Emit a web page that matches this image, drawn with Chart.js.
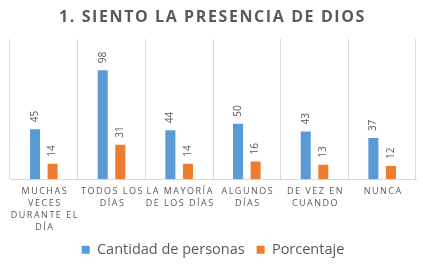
<!DOCTYPE html>
<html>
<head>
<meta charset="utf-8">
<script src="https://cdn.jsdelivr.net/npm/chart.js@4"></script>
<style>
	html, body { margin: 0; background: #fff; }
	#wrap { width: 423px; height: 267px; }
</style>
</head>
<body>
<div id="wrap"><canvas id="chart-dios"></canvas></div>
<script>
const TITLE = "1. SIENTO LA PRESENCIA DE DIOS";
const CATEGORIES = [
	["MUCHAS", "VECES", "DURANTE EL", "DÍA"],
	["TODOS LOS", "DÍAS"],
	["LA MAYORÍA", "DE LOS DÍAS"],
	["ALGUNOS", "DÍAS"],
	["DE VEZ EN", "CUANDO"],
	["NUNCA"],
];
const PERSONAS = [45, 98, 44, 50, 43, 37];
const PORCENTAJE = [14, 31, 14, 16, 13, 12];

const GRAY = "#595959";
const FONT = "'Open Sans', sans-serif";

//------------------------------------------------------------
// Custom text: title, rotated value labels, spaced x labels
//------------------------------------------------------------
const textPlugin = {
	id: "textPlugin",
	afterDraw: (chart) => {
		const ctx = chart.ctx;
		ctx.save();
		ctx.fillStyle = GRAY;

		// title
		ctx.font = "bold 16px " + FONT;
		ctx.letterSpacing = "1.6px";
		ctx.textAlign = "center";
		ctx.textBaseline = "middle";
		ctx.fillText(TITLE, chart.width / 2 + 1, 17);

		// x labels
		const xScale = chart.scales.x;
		ctx.font = "9px " + FONT;
		ctx.letterSpacing = "1.5px";
		ctx.textBaseline = "top";
		CATEGORIES.forEach((lines, i) => {
			const x = xScale.getPixelForTick(i);
			lines.forEach((line, j) => {
				ctx.fillText(line, x + 1, xScale.top + 8 + j * 12);
			});
		});

		// value labels
		ctx.letterSpacing = "0px";
		ctx.font = "10px " + FONT;
		ctx.textAlign = "left";
		ctx.textBaseline = "middle";
		chart.data.datasets.forEach((ds, d) => {
			chart.getDatasetMeta(d).data.forEach((bar, i) => {
				ctx.save();
				ctx.translate(bar.x, bar.y - 7);
				ctx.rotate(-Math.PI / 2);
				ctx.fillText(ds.data[i], 0, 0);
				ctx.restore();
			});
		});
		ctx.restore();
	},
};

const CHART_DATA = {
	labels: CATEGORIES,
	datasets: [
		{
			label: "Cantidad de personas",
			data: PERSONAS,
			backgroundColor: "#5B9BD5",
			categoryPercentage: 0.52,
			barPercentage: 0.57,
		},
		{
			label: "Porcentaje",
			data: PORCENTAJE,
			backgroundColor: "#ED7D31",
			categoryPercentage: 0.52,
			barPercentage: 0.57,
		},
	],
};

const CHART_CONFIG = {
	type: "bar",
	data: CHART_DATA,
	plugins: [textPlugin],
	options: {
		responsive: true,
		maintainAspectRatio: false,
		animation: false,
		layout: {
			padding: { top: 39, left: 10, right: 7, bottom: 0 },
		},
		plugins: {
			title: { display: false },
			tooltip: { enabled: false },
			legend: {
				position: "bottom",
				labels: {
					color: GRAY,
					font: { family: FONT, size: 14.5 },
					boxWidth: 8,
					boxHeight: 8,
					padding: 12,
				},
			},
		},
		scales: {
			x: {
				grid: {
					display: true,
					offset: true,
					color: "#D9D9D9",
					drawTicks: false,
				},
				border: { display: true, color: "#D9D9D9" },
				ticks: {
					color: "rgba(0,0,0,0)",
					font: { family: FONT, size: 9 },
					maxRotation: 0,
					autoSkip: false,
					padding: 4,
					callback: (v, i) => CATEGORIES[i],
				},
			},
			y: {
				display: false,
				min: 0,
				max: 126,
			},
		},
	},
};

new Chart(document.getElementById("chart-dios"), CHART_CONFIG);
</script>
</body>
</html>
